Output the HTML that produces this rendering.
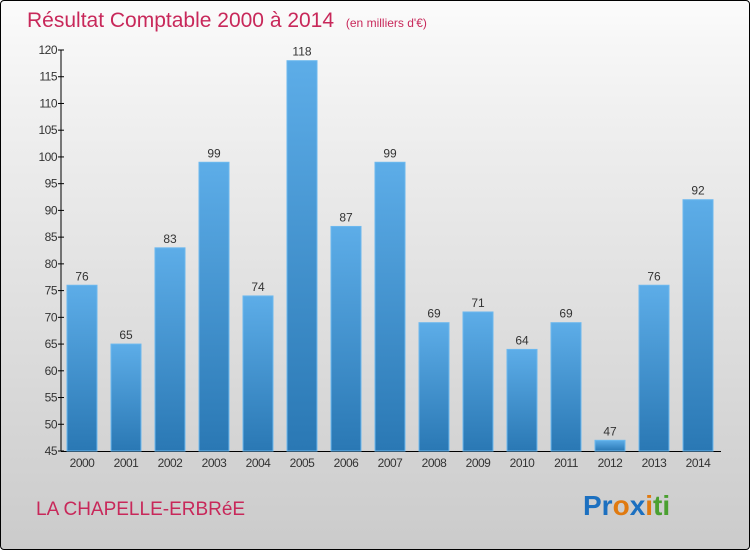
<!DOCTYPE html>
<html><head><meta charset="utf-8"><style>
body{margin:0;width:750px;height:550px;overflow:hidden;font-family:"Liberation Sans",sans-serif}
#root{position:absolute;left:0;top:0;width:748px;height:548px;border:1px solid #000;border-radius:4px;background:linear-gradient(#fbfbfb,#f0f0f0 20%,#cbcbcb)}
</style></head><body>
<div id="root">
<svg width="750" height="550" style="position:absolute;left:-1px;top:-1px">
<defs><linearGradient id="bg" x1="0" y1="0" x2="0" y2="1"><stop offset="0" stop-color="#5dade8"/><stop offset="1" stop-color="#2a78b4"/></linearGradient></defs>
<text x="27" y="27" font-size="21" fill="#c8285a">Résultat Comptable 2000 à 2014 <tspan font-size="12" dx="6">(en milliers d'€)</tspan></text>
<g id="axes"></g><g id="bars"></g>
<text x="36" y="515" font-size="19" fill="#c8285a">LA CHAPELLE-ERBRéE</text>
<text x="583" y="515" font-size="28" font-weight="bold"><tspan fill="#1c70c0">Pr</tspan><tspan fill="#e07a10">o</tspan><tspan fill="#1c70c0">x</tspan><tspan fill="#e07a10">i</tspan><tspan fill="#4aa030">ti</tspan></text>
</svg></div>
<script>
const years=["2000","2001","2002","2003","2004","2005","2006","2007","2008","2009","2010","2011","2012","2013","2014"];
const values=[76,65,83,99,74,118,87,99,69,71,64,69,47,76,92];
const ticks=[45,50,55,60,65,70,75,80,85,90,95,100,105,110,115,120];
const NS="http://www.w3.org/2000/svg";
const y=v=>451-(v-45)*401/75;
const x=i=>67+i*44;
function mk(t,a,p){const e=document.createElementNS(NS,t);for(const k in a)e.setAttribute(k,a[k]);p.appendChild(e);return e;}
const ax=document.getElementById('axes'),bg=document.getElementById('bars');
let l=mk('line',{x1:61,y1:50,x2:61,y2:451,stroke:'#000'},ax);


l=mk('line',{x1:61,y1:451.5,x2:721,y2:451.5,stroke:'#000'},ax);


ticks.forEach(t=>{mk('line',{x1:58,x2:64,y1:y(t),y2:y(t),stroke:'#000'},ax);
const tx=mk('text',{x:57,y:y(t)+4,'font-size':12,'text-anchor':'end',fill:'#333','letter-spacing':'-0.5'},ax);tx.textContent=t;

});
years.forEach((yr,i)=>{const v=values[i];
const r=mk('rect',{x:x(i),y:y(v),width:30,height:451-y(v),fill:'url(#bg)',stroke:'#6cb8ee','stroke-width':1},bg);


const t=mk('text',{x:x(i)+15,y:y(v)-5,'font-size':12,'text-anchor':'middle',fill:'#333'},bg);t.textContent=v;


const xl=mk('text',{x:x(i)+15,y:467,'font-size':12,'text-anchor':'middle',fill:'#333','letter-spacing':'-0.5'},bg);xl.textContent=yr;

});
</script></body></html>
